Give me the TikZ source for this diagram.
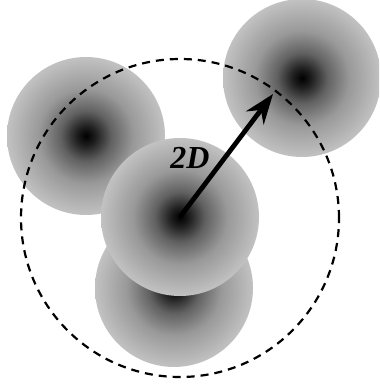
\documentclass[tikz,border=0pt]{standalone}
\usepackage{fontspec}
\setmainfont{Liberation Serif}
\usetikzlibrary{arrows.meta}
\pgfdeclareradialshading{ball}{\pgfpoint{0bp}{0bp}}{%
  color(0bp)=(black);
  color(3bp)=(black!88);
  color(8bp)=(black!62);
  color(15bp)=(black!40);
  color(25bp)=(black!24);
  color(50bp)=(black!24)}
\tikzset{
  particle/.style={circle, minimum size=158pt, inner sep=0pt, shading=ball},
  dashcircle/.style={circle, draw=black, dash pattern=on 8pt off 6pt, line width=2.2pt, minimum size=318pt, inner sep=0pt},
  arr/.style={line width=4.8pt, -{Stealth[length=30pt,width=22pt,inset=10pt]}},
  lbl/.style={font=\fontsize{32}{32}\selectfont\bfseries\itshape, inner sep=0pt}
}
\begin{document}
\begin{tikzpicture}[x=1pt,y=-1pt]
\useasboundingbox (0,0) rectangle (379,387);
\begin{scope}
\clip (0,0) rectangle (379,387);
\node[particle] (tl) at (86,136) {};
\node[particle] (tr) at (302,78) {};
\node[particle] (bt) at (174,288) {};
\node[particle] (ce) at (180,217) {};
\node[dashcircle] (dc) at (180,218) {};
\coordinate (tip) at (273,94);
\draw[arr] (ce.center) -- (tip);
\node[lbl] (l) at (190,158) {2D};
\end{scope}
\end{tikzpicture}
\end{document}
